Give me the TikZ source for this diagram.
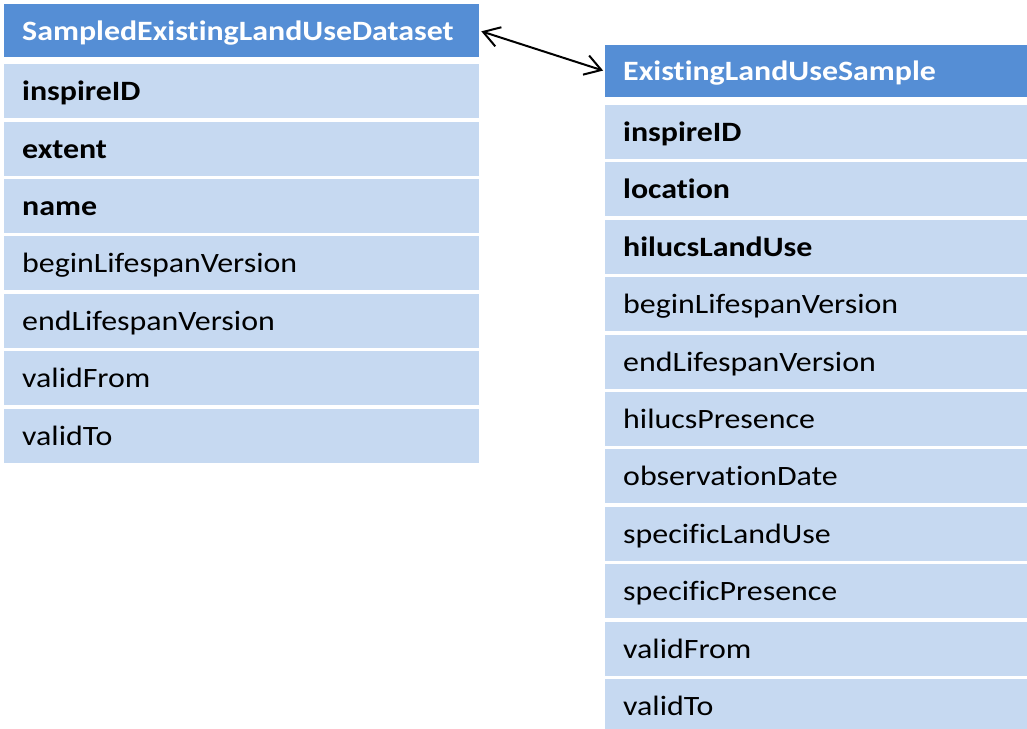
\documentclass[tikz,border=0pt]{standalone}
\usepackage{fontspec}
\setmainfont{Carlito}[FakeStretch=1.14, Ligatures=NoCommon]
\usetikzlibrary{arrows.meta}
\definecolor{hdrblue}{RGB}{85,142,213}
\definecolor{rowblue}{RGB}{198,217,241}
\begin{document}
\begin{tikzpicture}[x=1pt,y=-1pt,
  cellbase/.style={rectangle, anchor=north west, inner xsep=18pt, inner ysep=0pt,
    text height=19pt, text depth=0pt, align=left,
    font=\fontsize{28}{32}\selectfont},
  hdr/.style={cellbase, fill=hdrblue, text=white, font=\fontsize{28}{32}\selectfont\bfseries},
  cellb/.style={cellbase, fill=rowblue, text=black, font=\fontsize{28}{32}\selectfont\bfseries},
  cellr/.style={cellbase, fill=rowblue, text=black},
  lw/.style={text width=439pt, minimum height=54pt},
  rw/.style={text width=386pt, minimum height=54pt},
  assoc/.style={draw=black, line width=2pt, {Straight Barb[length=16pt,width=20pt]}-{Straight Barb[length=16pt,width=20pt]}}
]
\useasboundingbox (0,0) rectangle (1027,728);
% left table
\node[hdr, lw, minimum height=53pt] (lh) at (4,4) {SampledExistingLandUseDataset};
\node[cellb, lw] (l1) at (4,64) {inspireID};
\node[cellb, lw] (l2) at (4,121.4) {extent};
\node[cellb, lw] (l3) at (4,178.8) {name};
\node[cellr, lw] (l4) at (4,236.2) {beginLifespanVersion};
\node[cellr, lw] (l5) at (4,293.6) {endLifespanVersion};
\node[cellr, lw] (l6) at (4,351.0) {validFrom};
\node[cellr, lw] (l7) at (4,408.4) {validTo};
% right table
\node[hdr, rw, minimum height=52pt] (rh) at (605,45) {ExistingLandUseSample};
\node[cellb, rw] (r1) at (605,104.7) {inspireID};
\node[cellb, rw] (r2) at (605,162.1) {location};
\node[cellb, rw] (r3) at (605,219.5) {hilucsLandUse};
\node[cellr, rw] (r4) at (605,276.9) {beginLifespanVersion};
\node[cellr, rw] (r5) at (605,334.3) {endLifespanVersion};
\node[cellr, rw] (r6) at (605,391.7) {hilucsPresence};
\node[cellr, rw] (r7) at (605,449.1) {observationDate};
\node[cellr, rw] (r8) at (605,506.5) {specificLandUse};
\node[cellr, rw] (r9) at (605,563.9) {specificPresence};
\node[cellr, rw] (r10) at (605,621.3) {validFrom};
\node[cellr, rw] (r11) at (605,678.7) {validTo};
% association
\draw[assoc, shorten <=2pt, shorten >=2pt] (lh.east) -- (rh.west);
\end{tikzpicture}
\end{document}
